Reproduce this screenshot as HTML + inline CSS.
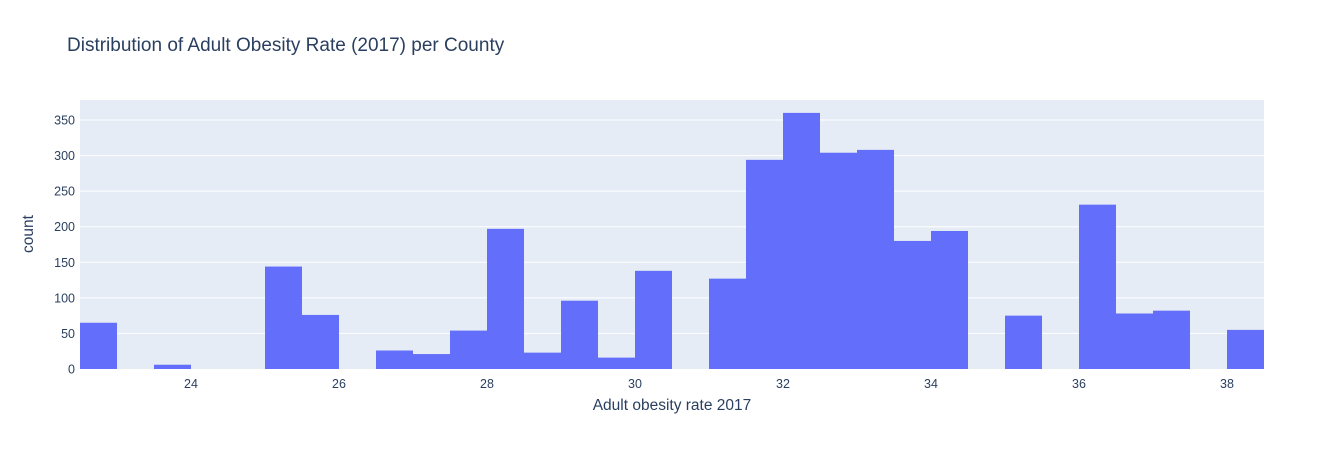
<!DOCTYPE html>
<html><head><meta charset="utf-8"><style>
body{margin:0;background:#fff;}
svg text{font-family:"Liberation Sans",sans-serif;fill:#2a3f5f;}
</style></head><body>
<svg id="chart" width="1344" height="450" xmlns="http://www.w3.org/2000/svg">
<rect width="1344" height="450" fill="#fff"/>
<text x="67" y="51" font-size="19">Distribution of Adult Obesity Rate (2017) per County</text>
<rect x="80" y="100" width="1184" height="269" fill="#e5ecf6"/>
<g id="grid"></g><g id="bars"></g><g id="ticks"></g>
<text x="672" y="410" font-size="15.5" text-anchor="middle">Adult obesity rate 2017</text>
<text transform="translate(33,234) rotate(-90)" font-size="15.5" text-anchor="middle">count</text>
</svg>
<script>
const binStart = 22.5;
const binWidth = 0.5;
const counts = [65,0,6,0,0,144,76,0,26,21,54,197,23,96,16,138,0,127,294,360,304,308,180,194,0,75,0,231,78,82,0,55];
const yTicks = [0,50,100,150,200,250,300,350];
const xTicks = [24,26,28,30,32,34,36,38];
const NS='http://www.w3.org/2000/svg';
const x0=80,x1=1264,y0=369;
const xs=v=>x0+(v-22.5)*(x1-x0)/16;
const ys=v=>y0-v*(369-120)/350;
function mk(t,a){const e=document.createElementNS(NS,t);for(const k in a)e.setAttribute(k,a[k]);return e;}
const grid=document.getElementById('grid'),bars=document.getElementById('bars'),ticks=document.getElementById('ticks');
yTicks.forEach(v=>{
  if(v>0){const l=mk('line',{x1:x0,x2:x1,y1:ys(v),y2:ys(v),stroke:'#fff','stroke-width':1});
  
  
  grid.appendChild(l);}
  const t=mk('text',{x:x0-5,y:ys(v)+4.5,'font-size':12.5,'text-anchor':'end'});t.textContent=v;
  
  
  ticks.appendChild(t);
});
xTicks.forEach(v=>{
  const t=mk('text',{x:xs(v),y:388,'font-size':12.5,'text-anchor':'middle'});t.textContent=v;
  
  
  ticks.appendChild(t);
});
counts.forEach((c,i)=>{
  if(c<=0)return;
  const a=xs(binStart+i*binWidth),b=xs(binStart+(i+1)*binWidth);
  const r=mk('rect',{x:a,y:ys(c),width:b-a,height:y0-ys(c),fill:'#636efa'});
  
  
  bars.appendChild(r);
});
</script>
</body></html>
